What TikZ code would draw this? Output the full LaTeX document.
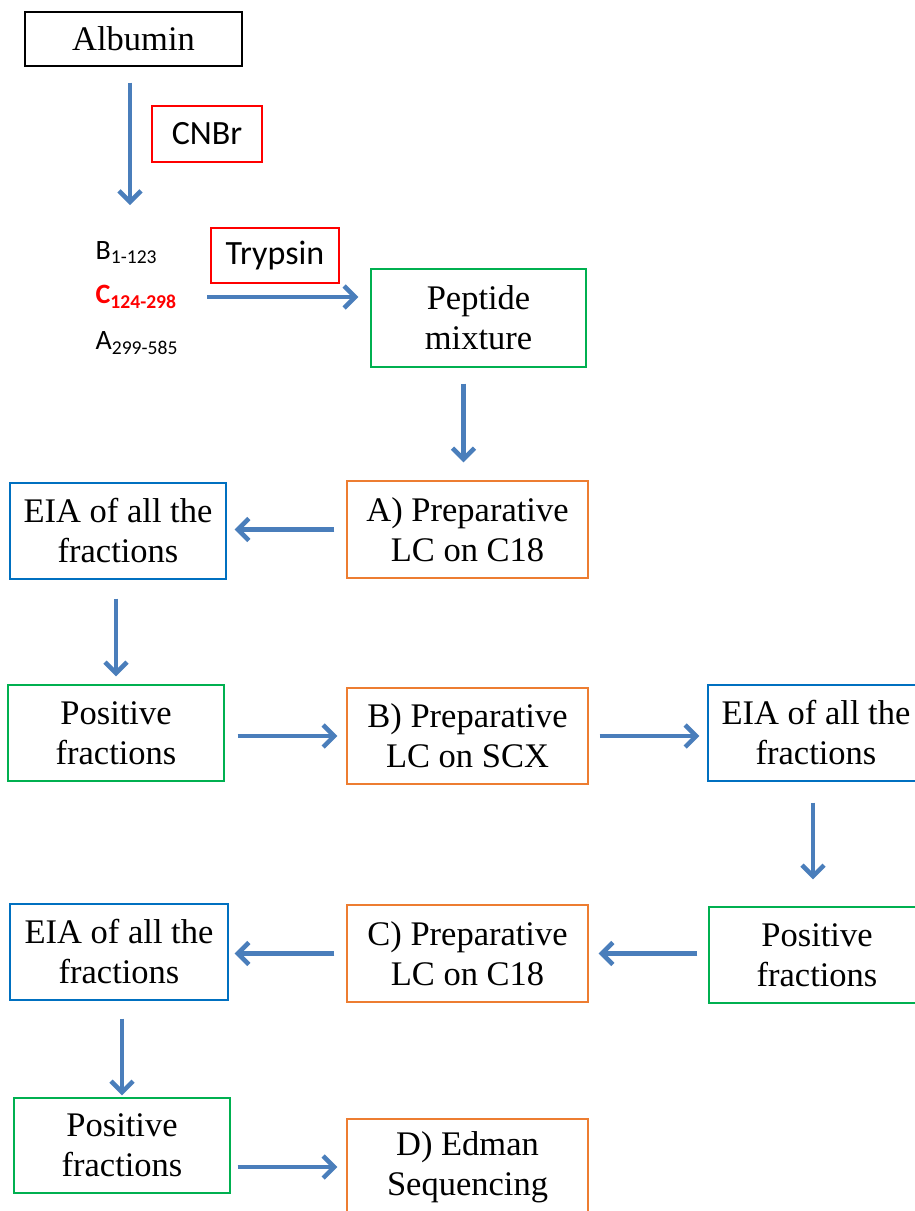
\documentclass[tikz,border=0pt]{standalone}
\usepackage{fontspec}
\setmainfont{Liberation Serif}
\newfontfamily\calibfont{Carlito}
\usetikzlibrary{arrows.meta, positioning}
\definecolor{flowblue}{HTML}{4A7EBB}
\definecolor{eiablue}{HTML}{0070C0}
\definecolor{posgreen}{HTML}{00B050}
\definecolor{lcorange}{HTML}{ED7D31}

\begin{document}
\begin{tikzpicture}[x=1pt, y=-1pt, every node/.style={rectangle, draw, line width=1.3pt, minimum width=216pt, minimum height=96pt, align=center, inner sep=0pt, font=\fontsize{34.5}{40}\selectfont},
  lcbox/.style={draw=lcorange, minimum width=241pt},
  eiabox/.style={draw=eiablue},
  posbox/.style={draw=posgreen},
  reagent/.style={draw=red, minimum height=56pt, font=\calibfont\fontsize{34}{40}\selectfont},
  frag/.style={draw=none, minimum width=0pt, minimum height=0pt, anchor=west, font=\calibfont\fontsize{28}{32}\selectfont},
  flow/.style={draw=flowblue, line width=4.5pt, -{Straight Barb[length=11pt, width=22pt]}, shorten <=10pt, shorten >=8pt}]

\useasboundingbox (0,0) rectangle (915,1211);
\clip (0,0) rectangle (915,1211);

% Digestion
\node (albumin) [minimum width=217pt, minimum height=54pt] at (133.5,39) {Albumin};
\node (cnbr) [reagent, minimum width=110pt] at (207,134) {CNBr};
\coordinate (cleave) at (130,205);
\node (fragB) [frag] at (95,253) {B\textsubscript{1-123}};
\node (fragC) [frag, text=red] at (95,297) {\bfseries C\textsubscript{124-298}};
\node (fragA) [frag] at (95,343) {A\textsubscript{299-585}};
\node (trypsin) [reagent, minimum width=128pt, minimum height=55pt] at (275,255.5) {Trypsin};
\node (peptide) [posbox, minimum width=215pt, minimum height=98pt] at (478.5,318) {Peptide\\mixture};

% Purification steps
\node (lcA) [lcbox, minimum height=97pt] at (467.5,529.5) {A) Preparative\\LC on C18};
\node (eiaA) [eiabox] at (118,531) {EIA of all the\\fractions};
\node (posA) [posbox] at (116,733) {Positive\\fractions};
\node (lcB) [lcbox] at (467.5,736) {B) Preparative\\LC on SCX};
\node (eiaB) [eiabox] at (816,733) {EIA of all the\\fractions};
\node (posB) [posbox] at (817,955) {Positive\\fractions};
\node (lcC) [lcbox, minimum height=97pt] at (467.5,953.5) {C) Preparative\\LC on C18};
\node (eiaC) [eiabox, minimum width=218pt] at (119,952) {EIA of all the\\fractions};
\node (posC) [posbox, minimum height=95pt] at (122,1145.5) {Positive\\fractions};
\node (lcD) [lcbox] at (467.5,1167) {D) Edman\\Sequencing};

% Arrows
\draw[flow, shorten <=16pt, shorten >=0pt] (cleave |- albumin.south) -- (cleave);
\draw[flow, shorten <=30pt, shorten >=12pt] (fragC.east) -- (fragC.east -| peptide.west);
\draw[flow, shorten <=16pt, shorten >=18pt] ([xshift=-4pt]lcA.north |- peptide.south) -- ([xshift=-4pt]lcA.north);
\draw[flow, shorten <=12pt, shorten >=8pt] (lcA.west) -- (lcA.west -| eiaA.east);
\draw[flow, shorten <=19pt, shorten >=8pt] (posA.north |- eiaA.south) -- (posA.north);
\draw[flow, shorten <=13pt, shorten >=9pt] (posA.east |- lcB.west) -- (lcB.west);
\draw[flow, shorten <=11pt, shorten >=8pt] (lcB.east) -- (lcB.east -| eiaB.west);
\draw[flow, shorten <=21pt, shorten >=27pt] ([xshift=-3pt]eiaB.south) -- ([xshift=-3pt]eiaB.south |- posB.north);
\draw[flow, shorten <=11pt, shorten >=10pt] (posB.west |- lcC.east) -- (lcC.east);
\draw[flow, shorten <=12pt, shorten >=6pt] (lcC.west) -- (lcC.west -| eiaC.east);
\draw[flow, shorten <=18pt, shorten >=2pt] (posC.north |- eiaC.south) -- (posC.north);
\draw[flow, shorten <=7pt, shorten >=9pt] (posC.east |- lcD.west) -- (lcD.west);

\end{tikzpicture}
\end{document}
